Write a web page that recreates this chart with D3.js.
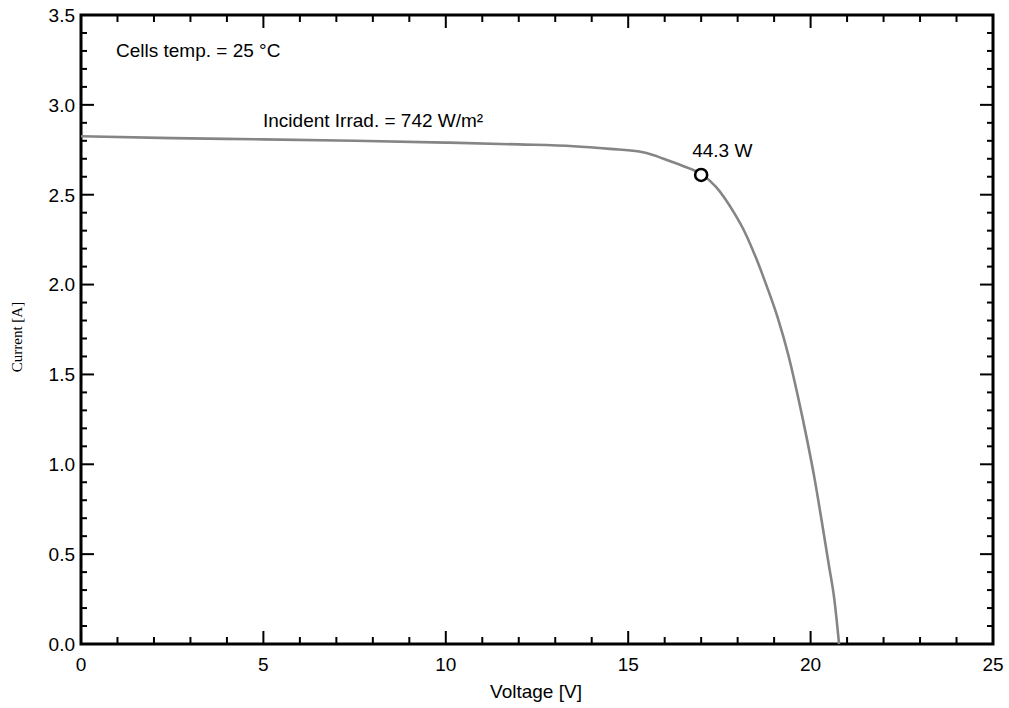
<!DOCTYPE html>
<html><head><meta charset="utf-8">
<script src="https://cdn.jsdelivr.net/npm/d3@7"></script>
<style>body{margin:0;background:#fff;}svg{display:block;}</style>
</head><body>
<svg id="c" width="1009" height="708"></svg>
<script>
// Data
const voltage = [0, 2.5, 5, 7.5, 10, 12, 13.5, 14.5, 15.3, 15.7, 16.1, 16.5, 17.0, 17.4, 17.9, 18.2, 18.5, 18.8, 19.1, 19.4, 19.65, 19.9, 20.1, 20.3, 20.5, 20.65, 20.78];
const current = [2.825, 2.815, 2.808, 2.80, 2.79, 2.78, 2.77, 2.755, 2.74, 2.72, 2.69, 2.66, 2.615, 2.545, 2.40, 2.29, 2.15, 1.99, 1.815, 1.60, 1.38, 1.14, 0.93, 0.69, 0.44, 0.25, 0.0];
const mppV = [17.0];
const mppI = [2.61];
const mppLabel = ["44.3 W"];
const xTicks = [0, 5, 10, 15, 20, 25];
const yTicks = [0.0, 0.5, 1.0, 1.5, 2.0, 2.5, 3.0, 3.5];
const annotations = ["Cells temp. = 25 °C", "Incident Irrad. = 742 W/m²"];

const L = 81, R = 993, T = 15, B = 644;
const svg = d3.select("#c");
const x = d3.scaleLinear().domain([0, 25]).range([L, R]);
const y = d3.scaleLinear().domain([0, 3.5]).range([B, T]);
const font = "'Liberation Sans', Arial, sans-serif";

// minor + major ticks, inward on all four sides
const xMinor = d3.range(0, 25.001, 1);
const yMinor = d3.range(0, 3.5001, 0.1).map(v => +v.toFixed(2));
const g = svg.append("g").attr("stroke", "#000").attr("stroke-width", 2);
xMinor.forEach(v => {
  const major = Math.abs(v % 5) < 1e-6;
  const len = major ? 13 : 7;
  g.append("line").attr("x1", x(v)).attr("x2", x(v)).attr("y1", B).attr("y2", B - len);
  g.append("line").attr("x1", x(v)).attr("x2", x(v)).attr("y1", T).attr("y2", T + len);
});
yMinor.forEach(v => {
  const major = Math.abs((v * 10) % 5) < 1e-6;
  const len = major ? 13 : 6;
  g.append("line").attr("y1", y(v)).attr("y2", y(v)).attr("x1", L).attr("x2", L + len);
  g.append("line").attr("y1", y(v)).attr("y2", y(v)).attr("x1", R).attr("x2", R - len);
});

// frame
svg.append("rect").attr("x", L).attr("y", T).attr("width", R - L).attr("height", B - T)
  .attr("fill", "none").attr("stroke", "#000").attr("stroke-width", 3);

// tick labels
svg.append("g").selectAll("text").data(xTicks).join("text")
  .attr("x", d => x(d)).attr("y", B + 27).attr("text-anchor", "middle")
  .attr("font-family", font).attr("font-size", 19).attr("fill", "#000")
  .text(d => d3.format("d")(d));
svg.append("g").selectAll("text").data(yTicks).join("text")
  .attr("x", L - 6).attr("y", d => y(d)).attr("dy", "0.36em").attr("text-anchor", "end")
  .attr("font-family", font).attr("font-size", 19).attr("fill", "#000")
  .text(d => d3.format(".1f")(d));

// axis titles
svg.append("text").attr("x", (L + R) / 2 - 1).attr("y", 698).attr("text-anchor", "middle")
  .attr("font-family", font).attr("font-size", 19).attr("fill", "#000").text("Voltage [V]");
svg.append("text").attr("transform", "translate(22,337) rotate(-90)").attr("text-anchor", "middle")
  .attr("font-family", "'Liberation Serif', 'Times New Roman', serif").attr("font-size", 15)
  .attr("fill", "#000").text("Current [A]");

// curve
const pts = voltage.map((v, i) => [v, current[i]]);
svg.append("path").datum(pts)
  .attr("d", d3.line().x(d => x(d[0])).y(d => y(d[1])).curve(d3.curveMonotoneX))
  .attr("fill", "none").attr("stroke", "#858585").attr("stroke-width", 2.6);

// annotations
svg.append("text").attr("x", 116).attr("y", 57).attr("font-family", font).attr("font-size", 19)
  .attr("fill", "#000").text(annotations[0]);
svg.append("text").attr("x", 263).attr("y", 127).attr("font-family", font).attr("font-size", 19)
  .attr("fill", "#000").text(annotations[1]);

// MPP marker
svg.append("g").selectAll("circle").data(mppV).join("circle")
  .attr("cx", d => x(d)).attr("cy", (d, i) => y(mppI[i])).attr("r", 6)
  .attr("fill", "#fff").attr("stroke", "#000").attr("stroke-width", 2.6);
svg.append("g").selectAll("text").data(mppV).join("text")
  .attr("x", d => x(d) - 9).attr("y", (d, i) => y(mppI[i]) - 18)
  .attr("font-family", font).attr("font-size", 19).attr("fill", "#000")
  .text((d, i) => mppLabel[i]);
</script>
</body></html>
